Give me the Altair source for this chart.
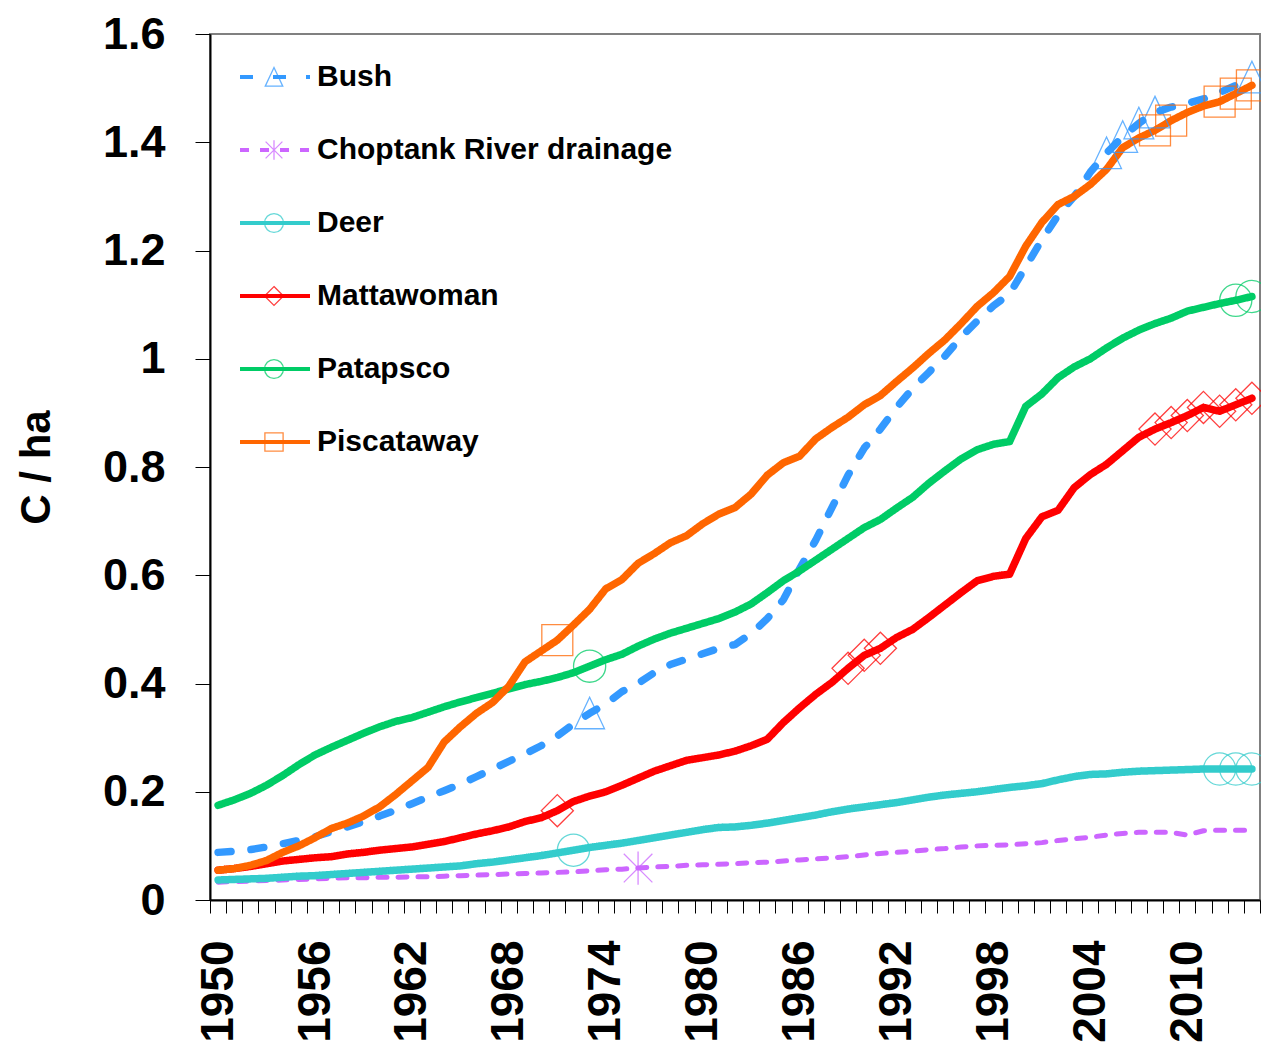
import altair as alt
import pandas as pd

years = list(range(1950, 2015))
series_names = ["Bush", "Choptank River drainage", "Deer", "Mattawoman", "Patapsco", "Piscataway"]
line_colors = ["#3399FF", "#CC66FF", "#33CCCC", "#FF0000", "#00CC66", "#FF6600"]

bush = [0.088, 0.090, 0.093, 0.098, 0.104, 0.110, 0.117, 0.126, 0.135, 0.145,
        0.155, 0.166, 0.178, 0.190, 0.202, 0.214, 0.228, 0.242, 0.256, 0.270,
        0.285, 0.303, 0.325, 0.345, 0.362, 0.385, 0.400, 0.420, 0.435, 0.445,
        0.455, 0.465, 0.472, 0.492, 0.520, 0.555, 0.612, 0.665, 0.725, 0.785,
        0.835, 0.870, 0.910, 0.945, 0.975, 1.005, 1.040, 1.070, 1.098, 1.120,
        1.170, 1.220, 1.265, 1.300, 1.345, 1.380, 1.410, 1.435, 1.455, 1.465,
        1.472, 1.480, 1.492, 1.505, 1.520]
choptank = [0.033, 0.034, 0.035, 0.036, 0.037, 0.038, 0.039, 0.040, 0.041, 0.041,
            0.042, 0.042, 0.043, 0.043, 0.044, 0.045, 0.046, 0.047, 0.048, 0.049,
            0.050, 0.051, 0.052, 0.054, 0.056, 0.057, 0.059, 0.061, 0.062, 0.064,
            0.065, 0.066, 0.067, 0.069, 0.070, 0.072, 0.074, 0.076, 0.078, 0.080,
            0.083, 0.086, 0.088, 0.090, 0.093, 0.095, 0.098, 0.100, 0.101, 0.102,
            0.104, 0.106, 0.110, 0.113, 0.116, 0.120, 0.123, 0.125, 0.125, 0.125,
            0.120, 0.128, 0.129, 0.129, 0.129]
deer = [0.037, 0.038, 0.039, 0.040, 0.042, 0.044, 0.045, 0.047, 0.049, 0.051,
        0.053, 0.055, 0.057, 0.059, 0.061, 0.063, 0.067, 0.070, 0.074, 0.078,
        0.082, 0.087, 0.092, 0.097, 0.101, 0.105, 0.110, 0.115, 0.120, 0.125,
        0.130, 0.134, 0.135, 0.138, 0.142, 0.147, 0.152, 0.157, 0.163, 0.168,
        0.172, 0.176, 0.180, 0.185, 0.190, 0.194, 0.197, 0.200, 0.204, 0.208,
        0.211, 0.215, 0.222, 0.228, 0.232, 0.233, 0.236, 0.238, 0.239, 0.240,
        0.241, 0.242, 0.242, 0.242, 0.242]
mattawoman = [0.055, 0.058, 0.062, 0.067, 0.072, 0.075, 0.078, 0.080, 0.085, 0.088,
              0.092, 0.095, 0.098, 0.103, 0.108, 0.115, 0.122, 0.128, 0.135, 0.145,
              0.152, 0.165, 0.182, 0.192, 0.200, 0.212, 0.225, 0.238, 0.248, 0.258,
              0.263, 0.268, 0.275, 0.285, 0.297, 0.328, 0.355, 0.380, 0.402, 0.428,
              0.452, 0.465, 0.485, 0.500, 0.522, 0.545, 0.568, 0.590, 0.598, 0.602,
              0.668, 0.708, 0.720, 0.762, 0.786, 0.805, 0.830, 0.855, 0.870, 0.882,
              0.895, 0.910, 0.903, 0.915, 0.927]
patapsco = [0.175, 0.185, 0.197, 0.212, 0.230, 0.250, 0.268, 0.282, 0.295, 0.308,
            0.320, 0.330, 0.337, 0.347, 0.357, 0.366, 0.374, 0.382, 0.390, 0.398,
            0.404, 0.411, 0.420, 0.432, 0.444, 0.454, 0.469, 0.482, 0.493, 0.502,
            0.511, 0.520, 0.532, 0.547, 0.568, 0.590, 0.608, 0.628, 0.648, 0.668,
            0.688, 0.703, 0.724, 0.744, 0.770, 0.793, 0.815, 0.832, 0.842, 0.847,
            0.912, 0.935, 0.965, 0.985, 1.000, 1.020, 1.038, 1.053, 1.065, 1.075,
            1.088, 1.095, 1.102, 1.108, 1.115]
piscataway = [0.055, 0.058, 0.064, 0.073, 0.088, 0.100, 0.115, 0.132, 0.142, 0.155,
              0.172, 0.195, 0.220, 0.245, 0.292, 0.320, 0.345, 0.365, 0.395, 0.440,
              0.460, 0.480, 0.508, 0.537, 0.575, 0.592, 0.622, 0.640, 0.660, 0.673,
              0.695, 0.713, 0.725, 0.750, 0.785, 0.808, 0.820, 0.852, 0.873, 0.892,
              0.915, 0.932, 0.958, 0.983, 1.010, 1.035, 1.065, 1.097, 1.122, 1.152,
              1.208, 1.252, 1.285, 1.300, 1.322, 1.350, 1.390, 1.408, 1.422, 1.440,
              1.455, 1.467, 1.475, 1.490, 1.505]

# years at which the sparse markers are drawn
bush_marker_years = [1973, 2005, 2006, 2007, 2008, 2014]
choptank_marker_years = [1976]
deer_marker_years = [1972, 2012, 2013, 2014]
mattawoman_marker_years = [1971, 1989, 1990, 1991, 2008, 2009, 2010, 2011, 2012, 2013, 2014]
patapsco_marker_years = [1973, 2013, 2014]
piscataway_marker_years = [1971, 2008, 2009, 2012, 2013, 2014]

x_label_years = [1950, 1956, 1962, 1968, 1974, 1980, 1986, 1992, 1998, 2004, 2010]
y_ticks = [0, 0.2, 0.4, 0.6, 0.8, 1.0, 1.2, 1.4, 1.6]

all_values = [bush, choptank, deer, mattawoman, patapsco, piscataway]
all_marker_years = [bush_marker_years, choptank_marker_years, deer_marker_years,
                    mattawoman_marker_years, patapsco_marker_years, piscataway_marker_years]

rows = []
for name, vals in zip(series_names, all_values):
    for yr, v in zip(years, vals):
        rows.append({"Year": yr, "Series": name, "Value": v})
df = pd.DataFrame(rows)

mrows = []
for name, vals, myears in zip(series_names, all_values, all_marker_years):
    for yr in myears:
        mrows.append({"Year": yr, "Marker": name, "Value": vals[yr - 1950]})
mdf = pd.DataFrame(mrows)

# styles
dashes = [[13, 20], [9, 11], [1, 0], [1, 0], [1, 0], [1, 0]]
shape_paths = [
    "M0,-0.27L-0.25,0.26L0.25,0.26Z",
    "M0,-0.28L0,0.28M-0.24,-0.24L0.24,0.24M-0.24,0.24L0.24,-0.24",
    "M0.27,0A0.27,0.27 0 1,1 -0.27,0A0.27,0.27 0 1,1 0.27,0Z",
    "M0,-0.27L0.27,0L0,0.27L-0.27,0Z",
    "M0.27,0A0.27,0.27 0 1,1 -0.27,0A0.27,0.27 0 1,1 0.27,0Z",
    "M-0.26,-0.26L0.26,-0.26L0.26,0.26L-0.26,0.26Z",
]

FONT = "Liberation Sans"

label_list = ",".join(str(v) for v in x_label_years)
x_axis = alt.Axis(
    title=None, labelAngle=270, tickBand="extent",
    labelExpr=f"indexof([{label_list}], datum.value) >= 0 ? datum.label : ''",
    labelFont=FONT, labelFontSize=46, labelFontWeight="bold", labelColor="black",
    labelPadding=27, labelOverlap=False, tickSize=13, tickColor="black", tickWidth=1,
    domainColor="black", domainWidth=2, grid=False,
)
y_axis = alt.Axis(
    title="C / ha", values=y_ticks, format=".1~f", grid=False,
    tickSize=15, tickColor="black", tickWidth=1, domainColor="black", domainWidth=2,
    labelFont=FONT, labelFontSize=45, labelFontWeight="bold", labelColor="black",
    labelPadding=30, titleFont=FONT, titleFontSize=42, titleFontWeight="bold",
    titleColor="black", titlePadding=44,
)

x_enc = alt.X("Year:O", scale=alt.Scale(type="band", paddingInner=0, paddingOuter=0), axis=x_axis)
y_enc = alt.Y("Value:Q", scale=alt.Scale(domain=[0, 1.6], nice=False), axis=y_axis)

common_legend = dict(
    title=None, orient="none", legendX=28, legendY=8, direction="vertical",
    symbolSize=4900, labelFont=FONT, labelFontSize=30, labelFontWeight="bold",
    labelColor="black", labelOffset=5, rowPadding=3, clipHeight=70, padding=0, labelLimit=600,
)
line_legend = alt.Legend(symbolType="stroke", symbolStrokeWidth=4, **common_legend)
marker_legend = alt.Legend(symbolStrokeWidth=1.3, labelExpr="''", **common_legend)

lines = alt.Chart(df).mark_line(strokeCap="round", strokeJoin="round").encode(
    x=x_enc,
    y=y_enc,
    color=alt.Color("Series:N", scale=alt.Scale(domain=series_names, range=line_colors), legend=line_legend),
    strokeDash=alt.StrokeDash("Series:N", scale=alt.Scale(domain=series_names, range=dashes), legend=line_legend),
    strokeWidth=alt.condition(alt.datum.Series == "Choptank River drainage", alt.value(5), alt.value(7.5)),
)

markers = alt.Chart(mdf).mark_point(filled=False, strokeWidth=1.3, size=14200, opacity=0.75).encode(
    x=x_enc,
    y=y_enc,
    color=alt.Color("Marker:N", scale=alt.Scale(domain=series_names, range=line_colors), legend=marker_legend),
    shape=alt.Shape("Marker:N", scale=alt.Scale(domain=series_names, range=shape_paths), legend=marker_legend),
)

chart = alt.layer(lines, markers).resolve_scale(
    color="independent", shape="independent", strokeDash="independent"
).resolve_legend(
    color="independent", shape="independent", strokeDash="independent"
).properties(
    width=1050, height=866,
    autosize=alt.AutoSizeParams(type="none"),
    padding={"left": 202, "top": 26, "right": 1, "bottom": 143},
).configure(
    font=FONT,
).configure_view(
    stroke="#808080", strokeWidth=2,
)

chart.save("out.html", embed_options={"renderer": "svg", "actions": False})
